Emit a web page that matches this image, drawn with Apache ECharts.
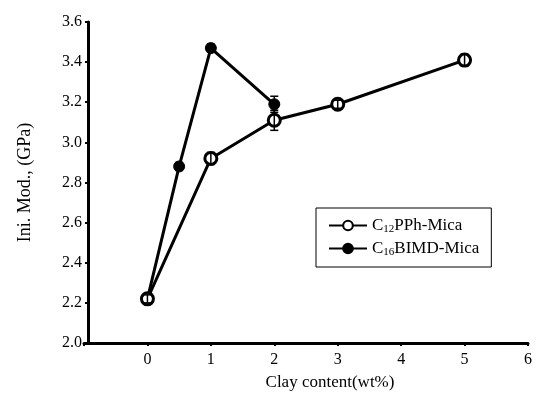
<!DOCTYPE html>
<html>
<head>
<meta charset="utf-8">
<script src="https://cdn.jsdelivr.net/npm/echarts@6/dist/echarts.min.js"></script>
<style>
  html, body { margin: 0; padding: 0; background: #fff; }
  #chart1 { width: 539px; height: 398px; }
</style>
</head>
<body>
<div id="chart1"></div>
<script>
const seriesNames = ['C12PPh-Mica', 'C16BIMD-Mica']

const ppClay = [0, 1, 2, 3, 5]
const ppModulus = [2.22, 2.92, 3.11, 3.19, 3.41]
const ppErr = [0.02, 0.03, 0.05, 0.02, 0.03]

const bimdClay = [0, 0.5, 1, 2]
const bimdModulus = [2.22, 2.88, 3.47, 3.19]
const bimdErr = [0.02, 0.02, 0.02, 0.04]

const FONT = '"Liberation Serif", "DejaVu Serif", serif'

const pairs = (xs, ys) => xs.map((x, i) => [x, ys[i]])
const errRows = (xs, ys, es) => xs.map((x, i) => [x, ys[i] - es[i], ys[i] + es[i]])

const errorBarItem = (params, api) => {
  const x = api.value(0)
  const lo = api.coord([x, api.value(1)])
  const hi = api.coord([x, api.value(2)])
  const w = 4
  const st = { stroke: '#000', lineWidth: 1.5 }
  return {
    type: 'group',
    children: [
      { type: 'line', shape: { x1: lo[0], y1: lo[1], x2: hi[0], y2: hi[1] }, style: st },
      { type: 'line', shape: { x1: lo[0] - w, y1: lo[1], x2: lo[0] + w, y2: lo[1] }, style: st },
      { type: 'line', shape: { x1: hi[0] - w, y1: hi[1], x2: hi[0] + w, y2: hi[1] }, style: st }
    ]
  }
}

const initChart = () => {
  const chart1 = echarts.init(document.getElementById('chart1'))
  chart1.setOption({
    animation: false,
    backgroundColor: '#fff',
    textStyle: { fontFamily: FONT, color: '#000' },
    grid: { left: 84, right: 11, top: 22, bottom: 55 },
    legend: {
      orient: 'vertical',
      left: 316,
      top: 208,
      data: seriesNames,
      borderColor: '#000',
      borderWidth: 1,
      padding: [9, 12, 9, 12],
      itemGap: 5,
      itemWidth: 38,
      itemHeight: 12,
      formatter: (name) => {
        const m = name.match(/^C(\d+)(.*)$/)
        return '{n|C}{s|' + m[1] + '}{n|' + m[2] + '}'
      },
      textStyle: {
        fontFamily: FONT,
        color: '#000',
        rich: {
          n: { fontSize: 17, fontFamily: FONT, color: '#000' },
          s: { fontSize: 11, fontFamily: FONT, color: '#000', padding: [8, 0, 0, 0] }
        }
      }
    },
    xAxis: {
      type: 'value',
      min: -1,
      max: 6,
      interval: 1,
      name: 'Clay content(wt%)',
      nameLocation: 'middle',
      nameGap: 31,
      nameTextStyle: { fontFamily: FONT, fontSize: 17, color: '#000', padding: [0, 0, 0, 48] },
      axisLine: { onZero: false, lineStyle: { color: '#000', width: 3 } },
      axisTick: { length: 3, lineStyle: { color: '#000', width: 2 } },
      axisLabel: {
        fontFamily: FONT, fontSize: 16, color: '#000', margin: 9,
        formatter: (v) => (v < 0 ? '' : String(v))
      },
      splitLine: { show: false }
    },
    yAxis: {
      type: 'value',
      min: 2.0,
      max: 3.6,
      interval: 0.2,
      offset: -4,
      name: 'Ini. Mod., (GPa)',
      nameLocation: 'middle',
      nameGap: 54,
      nameTextStyle: { fontFamily: FONT, fontSize: 18, color: '#000' },
      axisLine: { show: true, onZero: false, lineStyle: { color: '#000', width: 3 } },
      axisTick: { show: true, length: 3, lineStyle: { color: '#000', width: 2 } },
      axisLabel: {
        fontFamily: FONT, fontSize: 16, color: '#000', margin: 6,
        formatter: (v) => v.toFixed(1)
      },
      splitLine: { show: false }
    },
    series: [
      {
        name: 'C16BIMD-Mica',
        type: 'line',
        data: pairs(bimdClay, bimdModulus),
        symbol: 'circle',
        symbolSize: 11,
        z: 3,
        lineStyle: { color: '#000', width: 3 },
        itemStyle: { color: '#000', borderColor: '#000', borderWidth: 1 }
      },
      {
        name: 'C12PPh-Mica',
        type: 'line',
        data: pairs(ppClay, ppModulus),
        symbol: 'circle',
        symbolSize: 12,
        z: 5,
        lineStyle: { color: '#000', width: 3 },
        itemStyle: { color: '#fff', borderColor: '#000', borderWidth: 3 }
      },
      {
        type: 'custom',
        renderItem: errorBarItem,
        data: errRows(ppClay, ppModulus, ppErr),
        z: 6,
        silent: true
      },
      {
        type: 'custom',
        renderItem: errorBarItem,
        data: errRows(bimdClay, bimdModulus, bimdErr),
        z: 4,
        silent: true
      }
    ]
  })
}

if (typeof window !== 'undefined') {
  initChart()
}
</script>
</body>
</html>
